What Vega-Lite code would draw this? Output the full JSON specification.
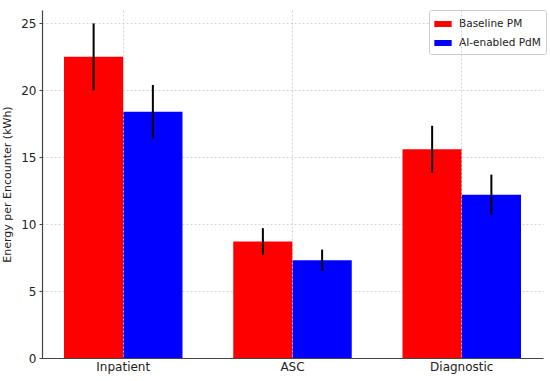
{
  "$schema": "https://vega.github.io/schema/vega-lite/v6.json",
  "width": 501,
  "height": 348,
  "autosize": {"type": "none"},
  "padding": {"left": 42, "top": 10, "right": 7, "bottom": 23},
  "background": "white",
  "config": {
    "font": "DejaVu Sans",
    "view": {"stroke": null},
    "axis": {"labelFont": "DejaVu Sans", "titleFont": "DejaVu Sans", "labelColor": "#222", "titleColor": "#222", "domainColor": "#444", "tickColor": "#444", "gridColor": "#c8c8c8", "gridDash": [2, 2], "gridWidth": 0.8}
  },
  "data": {"values": [
    {"category": "Inpatient", "scenario": "Baseline PM", "value": 22.5, "lo": 20.0, "hi": 25.0},
    {"category": "Inpatient", "scenario": "AI-enabled PdM", "value": 18.4, "lo": 16.4, "hi": 20.4},
    {"category": "ASC", "scenario": "Baseline PM", "value": 8.7, "lo": 7.7, "hi": 9.7},
    {"category": "ASC", "scenario": "AI-enabled PdM", "value": 7.3, "lo": 6.5, "hi": 8.1},
    {"category": "Diagnostic", "scenario": "Baseline PM", "value": 15.6, "lo": 13.85, "hi": 17.35},
    {"category": "Diagnostic", "scenario": "AI-enabled PdM", "value": 12.2, "lo": 10.7, "hi": 13.7}
  ]},
  "encoding": {
    "x": {"field": "category", "type": "nominal", "sort": ["Inpatient", "ASC", "Diagnostic"],
      "scale": {"paddingInner": 0.3, "paddingOuter": 0.13},
      "axis": {"title": null, "labelAngle": 0, "labelFontSize": 12, "labelPadding": 3, "tickSize": 0, "grid": true, "bandPosition": 0.5, "domainWidth": 1.2, "zindex": 1}},
    "xOffset": {"field": "scenario", "type": "nominal", "sort": ["Baseline PM", "AI-enabled PdM"], "scale": {"paddingInner": 0, "paddingOuter": 0}}
  },
  "layer": [
    {
      "mark": {"type": "bar"},
      "encoding": {
        "y": {"field": "value", "type": "quantitative", "scale": {"domain": [0, 26], "nice": false},
          "axis": {"title": "Energy per Encounter (kWh)", "titleFontSize": 11, "titleFontWeight": "normal", "titlePadding": 8, "labelFontSize": 12, "values": [0, 5, 10, 15, 20, 25], "tickSize": 3, "labelPadding": 3, "domainWidth": 1.2, "grid": true}},
        "color": {"field": "scenario", "type": "nominal", "sort": ["Baseline PM", "AI-enabled PdM"],
          "scale": {"domain": ["Baseline PM", "AI-enabled PdM"], "range": ["#ff0000", "#0000ff"]},
          "legend": {"title": null, "orient": "none", "legendX": 387, "legendY": 0, "symbolType": "M-1,-0.35H1V0.35H-1Z", "symbolSize": 300, "symbolStrokeWidth": 0, "labelFontSize": 10.5, "labelColor": "#222", "strokeColor": "#ccc", "fillColor": "white", "padding": 5, "cornerRadius": 2, "rowPadding": 4, "labelOffset": 7}}
      }
    },
    {
      "mark": {"type": "rule", "color": "black", "strokeWidth": 2},
      "encoding": {
        "y": {"field": "lo", "type": "quantitative"},
        "y2": {"field": "hi"}
      }
    }
  ]
}
